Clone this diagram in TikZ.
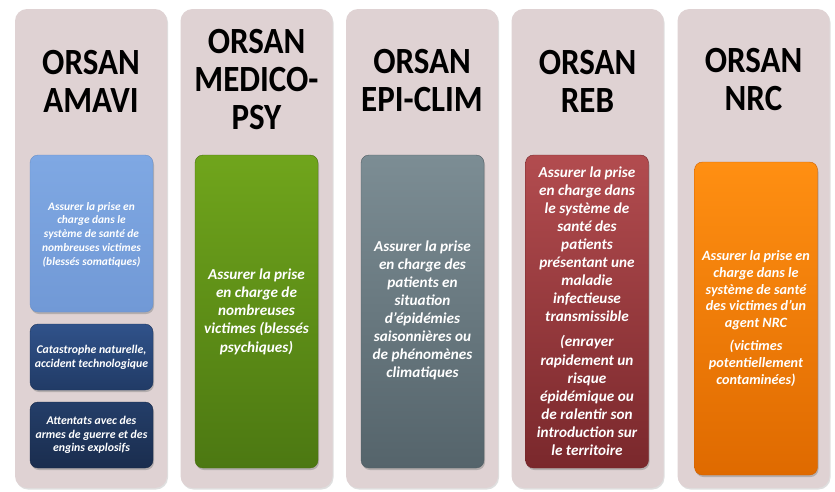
\documentclass[tikz,border=0pt]{standalone}
\usepackage{fontspec}
\setmainfont{Carlito}
\usetikzlibrary{shadows}
\definecolor{colpink}{HTML}{DFD2D3}
\definecolor{blueT}{HTML}{7FA8E3}\definecolor{blueB}{HTML}{7199D6}\definecolor{blueD}{HTML}{6A90C8}
\definecolor{dbaT}{HTML}{30528A}\definecolor{dbaB}{HTML}{213B66}\definecolor{dbaD}{HTML}{1E355C}
\definecolor{dbbT}{HTML}{243E69}\definecolor{dbbB}{HTML}{1A2D4E}\definecolor{dbbD}{HTML}{172846}
\definecolor{grnT}{HTML}{70A51C}\definecolor{grnB}{HTML}{4C7812}\definecolor{grnD}{HTML}{48700F}
\definecolor{gryT}{HTML}{7C8D94}\definecolor{gryB}{HTML}{55646B}\definecolor{gryD}{HTML}{505E64}
\definecolor{redT}{HTML}{B24C4F}\definecolor{redB}{HTML}{7A282C}\definecolor{redD}{HTML}{73262A}
\definecolor{orgT}{HTML}{FF8F12}\definecolor{orgB}{HTML}{DF6A00}\definecolor{orgD}{HTML}{D06200}
\newcommand\ttlline[1]{\scalebox{1}[1.12]{#1}}
\tikzset{
  col/.style={rounded corners=12pt, fill=colpink, minimum width=152pt, minimum height=479pt, inner sep=0pt,
    drop shadow={opacity=0.25, shadow xshift=1pt, shadow yshift=-1.5pt}},
  box/.style={rounded corners=8pt, minimum width=123pt, inner sep=0pt,
    drop shadow={opacity=0.45, shadow xshift=1pt, shadow yshift=-2pt}},
  ttl/.style={align=center, font=\bfseries\fontsize{33}{38}\selectfont, inner sep=0pt},
  txt/.style={align=center, text=white, inner sep=0pt},
}
\begin{document}
\begin{tikzpicture}[x=1pt,y=-1pt]
\useasboundingbox[fill=white] (0,0) rectangle (835,491);
% columns
\node[col] (c1) at (91,248.5) {};
\node[col] (c2) at (256.5,248.5) {};
\node[col] (c3) at (422,248.5) {};
\node[col] (c4) at (587.5,248.5) {};
\node[col] (c5) at (753.5,248.5) {};
% titles
\node[ttl] (t1) at (91,81) {\ttlline{ORSAN}\\\ttlline{AMAVI}};
\node[ttl] (t2) at (256.5,80) {\ttlline{ORSAN}\\\ttlline{MEDICO-}\\\ttlline{PSY}};
\node[ttl] (t3) at (422,81) {\ttlline{ORSAN}\\\ttlline{EPI-CLIM}};
\node[ttl] (t4) at (587.5,81) {\ttlline{ORSAN}\\\ttlline{REB}};
\node[ttl] (t5) at (753.5,80) {\ttlline{ORSAN}\\\ttlline{NRC}};
% boxes
\node[box, minimum height=157pt, top color=blueT, bottom color=blueB, draw=blueD] (b1) at (91.5,233.5) {};
\node[box, minimum height=66pt, top color=dbaT, bottom color=dbaB, draw=dbaD] (b1a) at (91.5,357) {};
\node[box, minimum height=66pt, top color=dbbT, bottom color=dbbB, draw=dbbD] (b1b) at (91.5,435) {};
\node[box, minimum height=313pt, top color=grnT, bottom color=grnB, draw=grnD] (b2) at (256.5,311.5) {};
\node[box, minimum height=313pt, top color=gryT, bottom color=gryB, draw=gryD] (b3) at (422.5,311.5) {};
\node[box, minimum height=313pt, top color=redT, bottom color=redB, draw=redD] (b4) at (587,311.5) {};
\node[box, minimum height=313pt, top color=orgT, bottom color=orgB, draw=orgD] (b5) at (756,318.5) {};
% texts
\node[txt, font=\bfseries\itshape\fontsize{11.4}{13.7}\selectfont] (x1) at (91.5,234.5) {Assurer la prise en\\charge dans le\\système de santé de\\nombreuses victimes\\(blessés somatiques)};
\node[txt, font=\bfseries\itshape\fontsize{11.8}{14}\selectfont] (x1a) at (b1a) {Catastrophe naturelle,\\accident technologique};
\node[txt, font=\bfseries\itshape\fontsize{11.8}{13.7}\selectfont] (x1b) at (b1b) {Attentats avec des\\armes de guerre et des\\engins explosifs};
\node[txt, font=\bfseries\itshape\fontsize{15.2}{18.2}\selectfont] (x2) at (256.5,311.5) {Assurer la prise\\en charge de\\nombreuses\\victimes (blessés\\psychiques)};
\node[txt, font=\bfseries\itshape\fontsize{15.2}{18.1}\selectfont] (x3) at (422.5,310.5) {Assurer la prise\\en charge des\\patients en\\situation\\d’épidémies\\saisonnières ou\\de phénomènes\\climatiques};
\node[txt, font=\bfseries\itshape\fontsize{15.2}{18.1}\selectfont] (x4) at (587,311) {Assurer la prise\\en charge dans\\le système de\\santé des\\patients\\présentant une\\maladie\\infectieuse\\transmissible\\[7pt](enrayer\\rapidement un\\risque\\épidémique ou\\de ralentir son\\introduction sur\\le territoire};
\node[txt, font=\bfseries\itshape\fontsize{14.2}{16.6}\selectfont] (x5) at (756,318.5) {Assurer la prise en\\charge dans le\\système de santé\\des victimes d’un\\agent NRC\\[7pt](victimes\\potentiellement\\contaminées)};
\end{tikzpicture}
\end{document}
